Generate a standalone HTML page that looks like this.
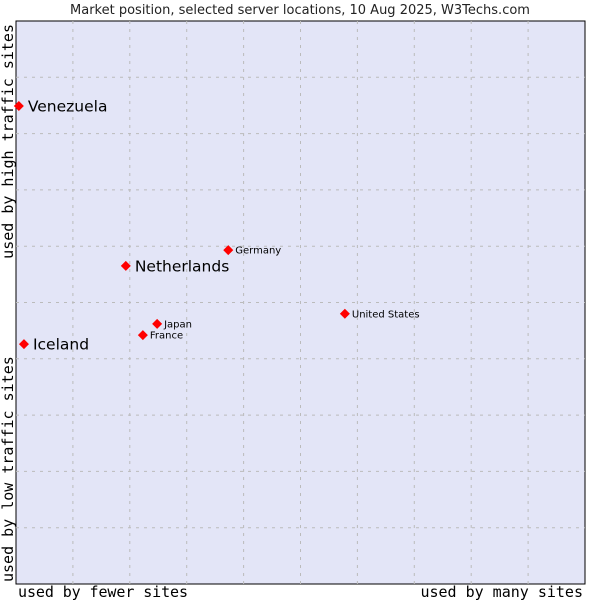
<!DOCTYPE html>
<html><head><meta charset="utf-8"><style>
body{margin:0;background:#fff;width:600px;height:600px;overflow:hidden}
svg{display:block}
</style></head><body>
<svg id="chart" width="600" height="600" xmlns="http://www.w3.org/2000/svg">
<text x="300" y="14" text-anchor="middle" font-family="DejaVu Sans, sans-serif" font-size="13" fill="#222">Market position, selected server locations, 10 Aug 2025, W3Techs.com</text>
<rect x="16" y="21" width="569" height="563" fill="#e3e5f7" stroke="#000" stroke-width="1"/>
<g id="grid"></g>
<g id="points"></g>
<text x="18" y="597" textLength="170" font-family="DejaVu Sans Mono, monospace" font-size="15" fill="#000">used by fewer sites</text>
<text x="583" y="597" text-anchor="end" font-family="DejaVu Sans Mono, monospace" font-size="15" fill="#000">used by many sites</text>
<text transform="translate(13,582) rotate(-90)" font-family="DejaVu Sans Mono, monospace" font-size="15" fill="#000">used by low traffic sites</text>
<text transform="translate(13,24) rotate(-90)" text-anchor="end" font-family="DejaVu Sans Mono, monospace" font-size="15" fill="#000">used by high traffic sites</text>
</svg>
<script>
const countries=["Venezuela","Netherlands","Iceland","Germany","United States","Japan","France"];
const popularity=[0.005,0.193,0.014,0.373,0.578,0.248,0.223];
const traffic=[0.849,0.565,0.426,0.593,0.480,0.462,0.442];
const highlighted=[true,true,true,false,false,false,false];
const L=16,T=21,W=569,H=563;
const xs=v=>L+v*W, ys=v=>T+H-v*H;
const NS="http://www.w3.org/2000/svg";
const g=document.getElementById('grid');
for(let i=1;i<10;i++){
  const x=L+i*W/10, y=T+i*H/10;
  const v=document.createElementNS(NS,'line');
  
  
  v.setAttribute('x1',x);v.setAttribute('x2',x);v.setAttribute('y1',T);v.setAttribute('y2',T+H);
  v.setAttribute('stroke','#bbbbbb');v.setAttribute('stroke-dasharray','3,5');
  g.appendChild(v);
  const h=document.createElementNS(NS,'line');
  
  
  h.setAttribute('x1',L);h.setAttribute('x2',L+W);h.setAttribute('y1',y);h.setAttribute('y2',y);
  h.setAttribute('stroke','#bbbbbb');h.setAttribute('stroke-dasharray','3,5');
  g.appendChild(h);
}
const p=document.getElementById('points');
countries.forEach((c,i)=>{
  const x=xs(popularity[i]), y=ys(traffic[i]);
  const m=document.createElementNS(NS,'polygon');
  
  
  m.setAttribute('points',`${x},${y-5} ${x+5},${y} ${x},${y+5} ${x-5},${y}`);
  m.setAttribute('fill','#f00');
  p.appendChild(m);
  const t=document.createElementNS(NS,'text');
  
  
  const big=highlighted[i];
  t.setAttribute('x',x+(big?9:7));
  t.setAttribute('y',y+(big?5.5:3.5));
  t.setAttribute('font-family','DejaVu Sans, sans-serif');
  t.setAttribute('font-size',big?15.5:10);
  t.setAttribute('fill','#000');
  t.textContent=c;
  p.appendChild(t);
});
</script>
</body></html>
